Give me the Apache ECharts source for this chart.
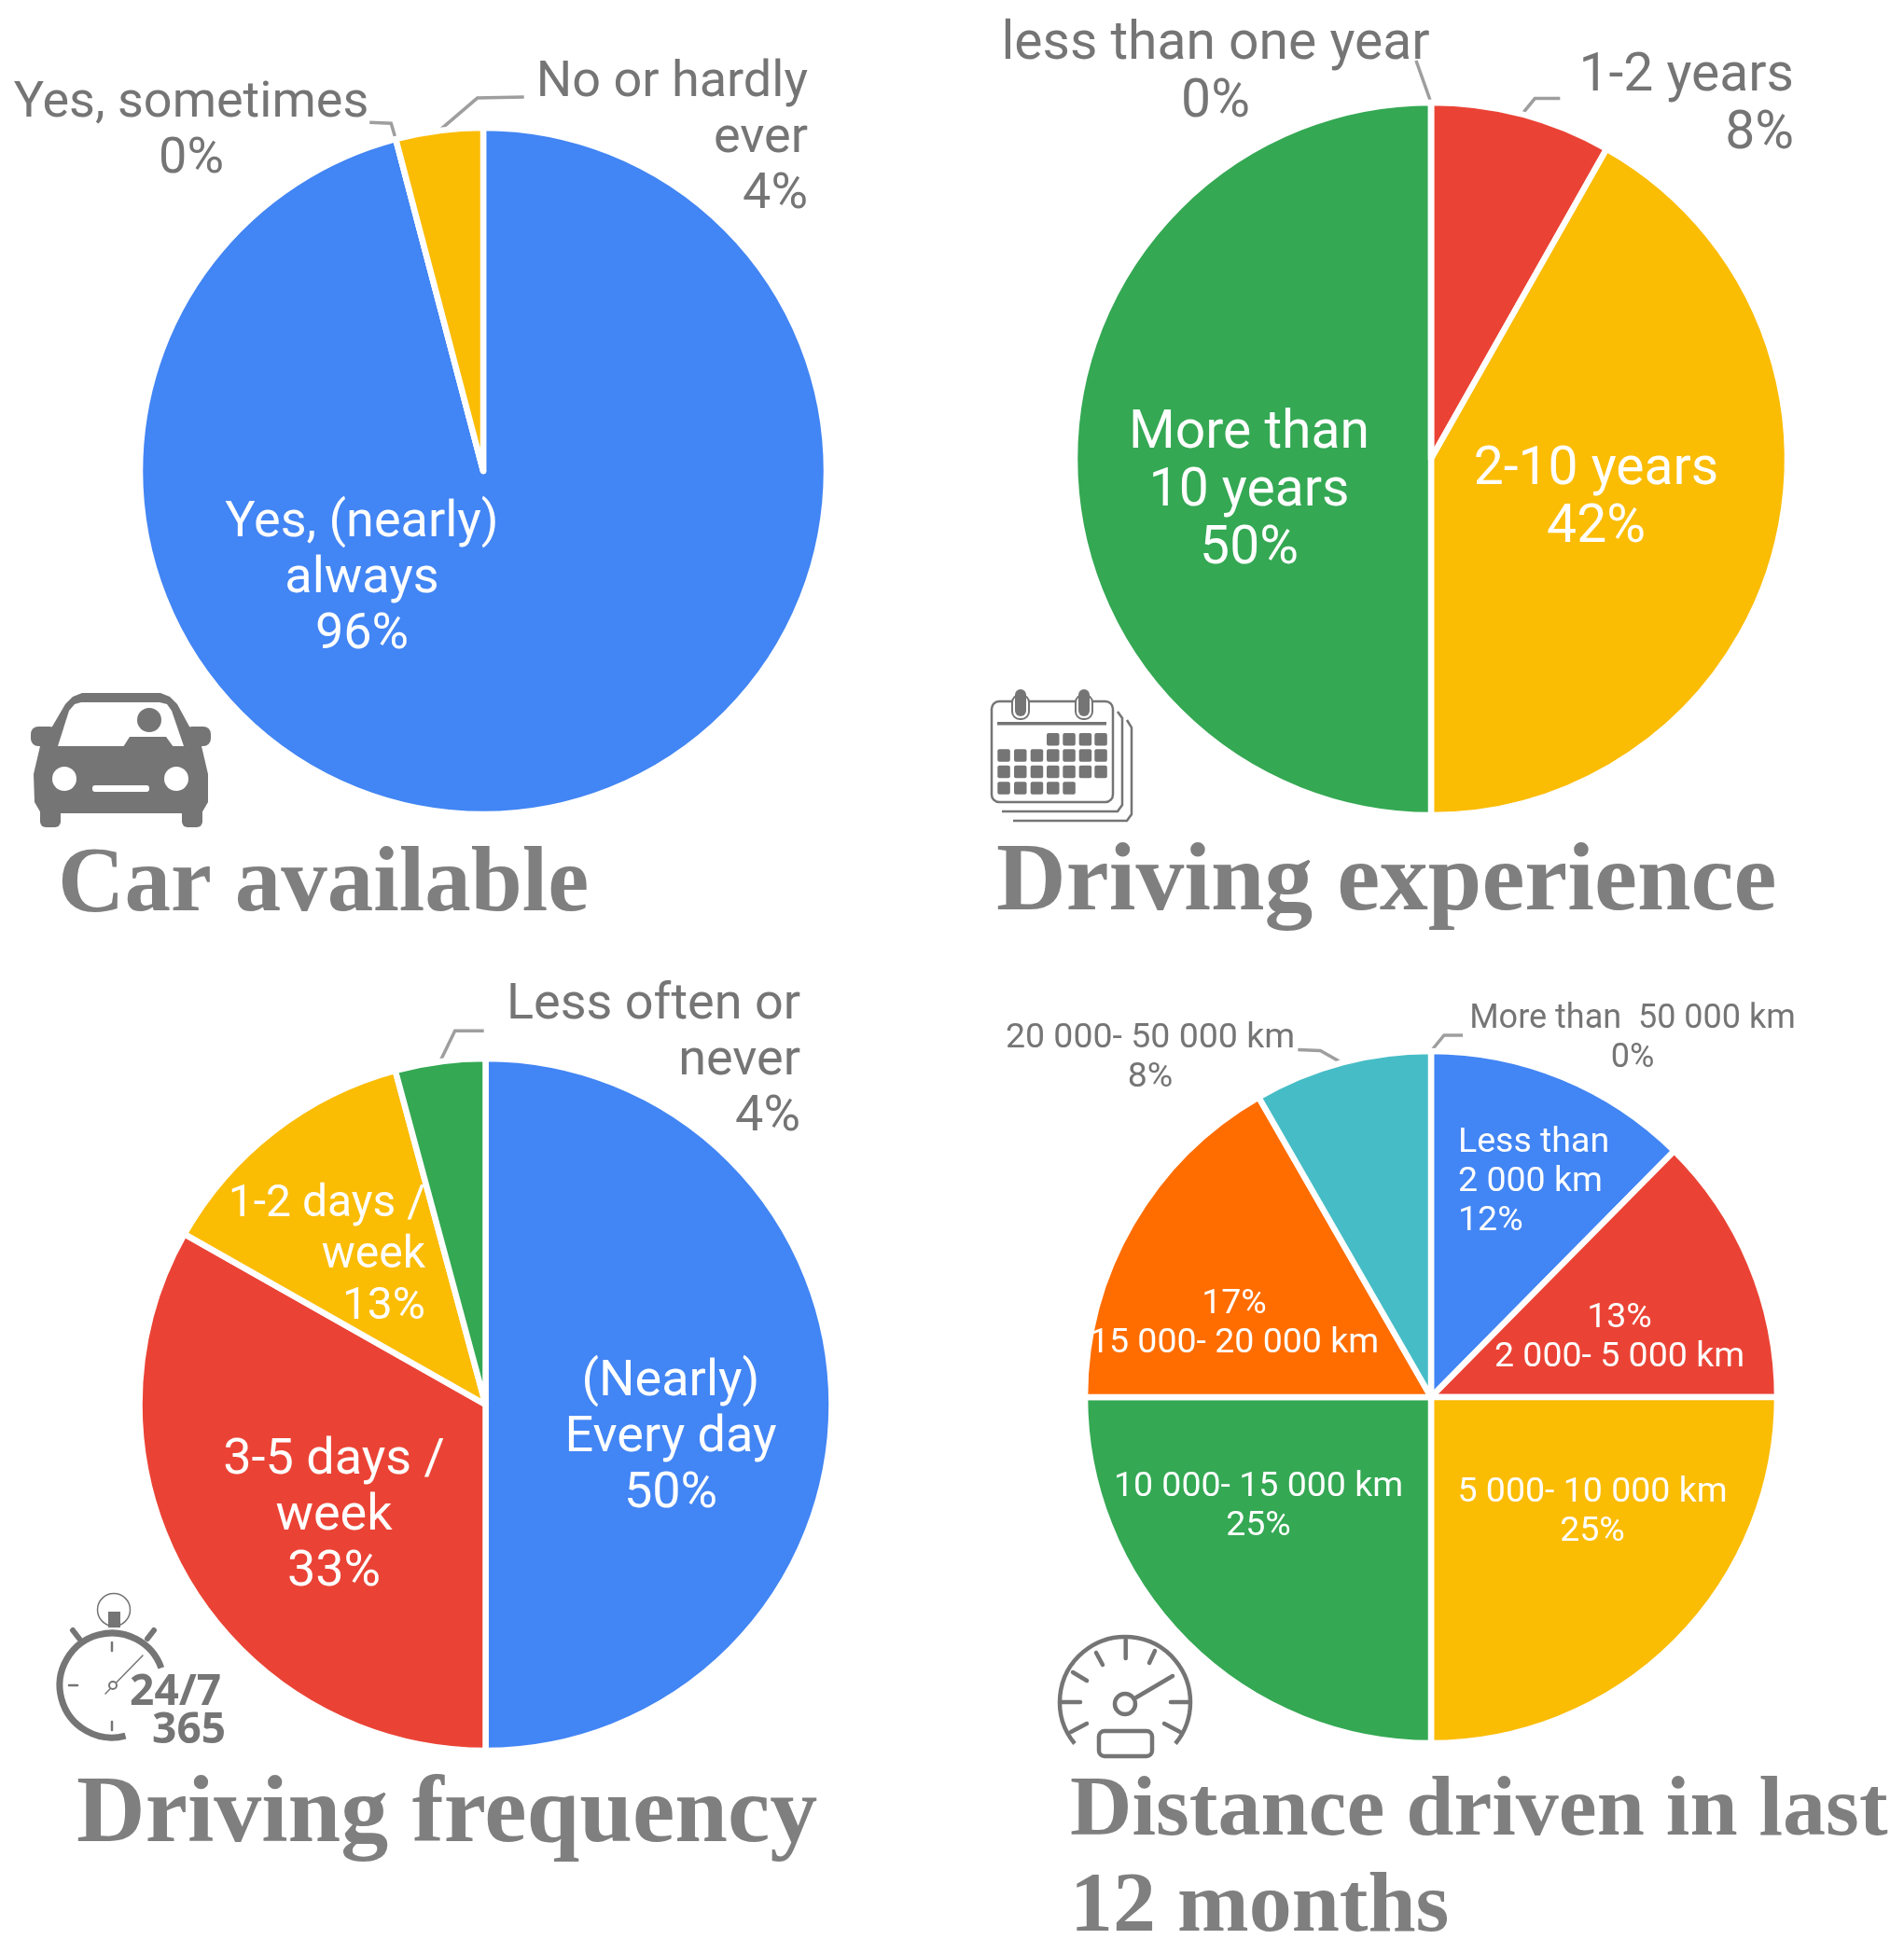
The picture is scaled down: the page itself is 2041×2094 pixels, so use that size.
<!DOCTYPE html>
<html>
<head>
<meta charset="utf-8">
<title>Car use</title>
<script src="https://cdn.jsdelivr.net/npm/echarts@6/dist/echarts.min.js"></script>
<style>
html,body{margin:0;padding:0;background:#fff}
#main{width:2041px;height:2094px}
</style>
</head>
<body>
<div id="main"></div>
<script>
var carNames = ['Yes, (nearly)\nalways', 'Yes, sometimes', 'No or hardly\never'];
var carValues = [95.9, 0, 4.1];
var expNames = ['1-2 years', '2-10 years', 'More than\n10 years', 'less than one year'];
var expValues = [8.2, 41.8, 50, 0];
var freqNames = ['(Nearly)\nEvery day', '3-5 days /\nweek', '1-2 days /\nweek', 'Less often or\nnever'];
var freqValues = [50, 33.2, 12.6, 4.2];
var distNames = ['More than  50 000 km', 'Less than\n2 000 km', '2 000- 5 000 km', '5 000- 10 000 km', '10 000- 15 000 km', '15 000- 20 000 km', '20 000- 50 000 km'];
var distValues = [0, 12.4, 12.6, 25, 25, 16.7, 8.3];
var titles = ['Car available', 'Driving experience', 'Driving frequency', 'Distance driven in last\n12 months'];

var BLUE = '#4285F4', RED = '#EA4335', YELLOW = '#FBBC04', GREEN = '#34A853', ORANGE = '#FF6D01', TEAL = '#46BDC6';
var GREY = '#757575';

// [x, middle y, align] of every label
var carSpots = [[388, 621, 'center'], [205, 141, 'center'], [866, 149, 'right']];
var expSpots = [[1923, 114, 'right'], [1711, 536, 'center'], [1339, 528, 'center'], [1303, 80, 'center']];
var freqSpots = [[719, 1542, 'center'], [358, 1626, 'center'], [456, 1347, 'right'], [858, 1138, 'right']];
var distSpots = [[1750, 1114, 'center'], [1563, 1268, 'left'], [1736, 1435, 'center'], [1707, 1622, 'center'], [1349, 1616, 'center'], [1323, 1420, 'center'], [1233, 1135, 'center']];

// leader lines, offsets from the point on the rim. null = label sits inside
var carLeaders = [null, [[-5, -17], [-28, -18]], [[41, -35], [91, -36]]];
var expLeaders = [[[14, -17], [41, -17]], null, null, [[-16, -45]]];
var freqLeaders = [null, null, null, [[16, -33], [47, -33]]];
var distLeaders = [[[14, -17], [34, -17]], null, null, null, null, null, [[-23, -13], [-47, -14]]];

function buildPie(names, values, colors, center, radius, spots, leaders, font, percentFirst) {
    return {
        type: 'pie',
        animation: false,
        center: center,
        radius: radius,
        startAngle: 90,
        clockwise: true,
        avoidLabelOverlap: false,
        stillShowZeroSum: true,
        minShowLabelAngle: 0,
        itemStyle: {borderColor: '#fff', borderWidth: 6.5},
        emphasis: {disabled: true},
        labelLine: {lineStyle: {color: '#9E9E9E', width: 3.5}},
        data: names.map(function (n, i) {
            var outside = !!leaders[i];
            var one = font.one && font.one[i];
            return {
                name: n,
                value: values[i],
                itemStyle: {color: colors[i]},
                label: {
                    show: true,
                    position: outside ? 'outside' : 'inside',
                    formatter: function (p) {
                        var pct = Math.round(p.value) + '%';
                        return percentFirst && percentFirst[i] ? pct + '\n' + p.name : p.name + '\n' + pct;
                    },
                    color: outside ? GREY : '#fff',
                    fontFamily: 'Roboto',
                    fontSize: one ? one[0] : font.size,
                    lineHeight: one ? one[1] : font.line,
                    overflow: 'none'
                },
                labelLine: {show: outside, length: 20, length2: 20}
            };
        }),
        labelLayout: function (p) {
            var s = spots[p.dataIndex], r = p.labelRect;
            var k = p.align === 'right' ? 1 : p.align === 'left' ? 0 : 0.5;
            var out = {
                dx: s[0] - (r.x + r.width * k),
                dy: s[1] - (r.y + r.height / 2),
                align: s[2]
            };
            var lead = leaders[p.dataIndex];
            if (lead && p.labelLinePoints) {
                var a = p.labelLinePoints[0];
                out.labelLinePoints = [[a[0], a[1]]].concat(lead.map(function (o) {
                    return [a[0] + o[0], a[1] + o[1]];
                }));
            }
            return out;
        }
    };
}

// icon helpers
function line(x1, y1, x2, y2, w) {
    return {type: 'line', shape: {x1: x1, y1: y1, x2: x2, y2: y2}, style: {stroke: GREY, lineWidth: w, lineCap: 'round'}};
}
function box(x, y, w, h, r, fill) {
    return {type: 'rect', shape: {x: x, y: y, width: w, height: h, r: r}, style: {fill: fill || GREY}};
}
function poly(points, fill) {
    return {type: 'polygon', shape: {points: points}, style: {fill: fill}};
}
function dot(cx, cy, r, fill) {
    return {type: 'circle', shape: {cx: cx, cy: cy, r: r}, style: {fill: fill}};
}
function arc(cx, cy, r, a0, a1, w) {
    return {type: 'arc', shape: {cx: cx, cy: cy, r: r, startAngle: a0 * Math.PI / 180, endAngle: a1 * Math.PI / 180, clockwise: true}, style: {stroke: GREY, fill: 'none', lineWidth: w}};
}

function carIcon() {
    return [
        box(33, 779, 28, 21, 8),
        box(198, 779, 28, 21, 8),
        poly([[56, 779], [70, 755], [78, 747], [88, 743], [172, 743], [182, 747], [190, 755], [203, 779], [216, 800], [223, 830], [223, 860], [216, 872], [44, 872], [37, 860], [36, 830], [43, 800]], GREY),
        box(43, 860, 22, 27, 6),
        box(195, 860, 22, 27, 6),
        poly([[62, 800], [74, 762], [80, 755], [87, 753], [171, 753], [179, 755], [184, 762], [197, 800]], '#fff'),
        dot(160, 772, 13, GREY),
        poly([[132, 801], [139, 790], [178, 790], [186, 801]], GREY),
        dot(69, 835, 13, '#fff'),
        dot(189, 835, 13, '#fff'),
        box(99, 842, 61, 7, 3, '#fff')
    ];
}

function calendarIcon() {
    var els = [
        {type: 'polyline', shape: {points: [[1198, 763], [1203, 770], [1203, 863], [1198, 870], [1074, 870]]}, style: {stroke: GREY, lineWidth: 2.5, fill: 'none'}},
        {type: 'polyline', shape: {points: [[1208, 772], [1213, 780], [1213, 873], [1208, 880], [1086, 880]]}, style: {stroke: GREY, lineWidth: 2.5, fill: 'none'}},
        {type: 'rect', shape: {x: 1063, y: 752, width: 130, height: 108, r: 8}, style: {stroke: GREY, lineWidth: 2.5, fill: '#fff'}},
        {type: 'rect', shape: {x: 1085, y: 745, width: 18, height: 26, r: 8}, style: {stroke: GREY, lineWidth: 2, fill: '#fff'}},
        {type: 'rect', shape: {x: 1153, y: 745, width: 18, height: 26, r: 8}, style: {stroke: GREY, lineWidth: 2, fill: '#fff'}},
        box(1088, 739, 12, 29, 6),
        box(1156, 739, 12, 29, 6),
        box(1069, 774, 117, 3.5, 0)
    ];
    var cols = [1069.3, 1087, 1104.7, 1122, 1139.3, 1156.7, 1173.3];
    var rows = [786, 803.3, 820.7, 838.3];
    var first = [3, 0, 0, 0], last = [6, 6, 6, 4];
    rows.forEach(function (y, r) {
        for (var c = first[r]; c <= last[r]; c++) {
            els.push(box(cols[c], y, 13.5, 13.5, 2));
        }
    });
    return els;
}

function watchIcon() {
    return [
        {type: 'circle', shape: {cx: 122, cy: 1726, r: 17.5}, style: {stroke: GREY, lineWidth: 1.5, fill: 'none'}},
        box(116, 1728, 13, 17, 0),
        line(78, 1748, 85, 1757, 6),
        line(165, 1748, 158, 1757, 6),
        arc(120, 1807, 56, 75, 340.5, 7),
        line(120, 1761, 120, 1770, 2.5),
        line(74, 1807, 83, 1807, 2.5),
        line(120, 1846, 120, 1855, 2.5),
        line(113, 1816, 153, 1775, 1.5),
        {type: 'circle', shape: {cx: 121, cy: 1807, r: 4}, style: {stroke: GREY, lineWidth: 2, fill: '#fff'}},
        {type: 'text', x: 237, y: 1815, style: {text: '24/7', fill: GREY, font: 'bold 46px "Open Sans"', textAlign: 'right', textVerticalAlign: 'middle'}},
        {type: 'text', x: 242, y: 1856, style: {text: '365', fill: GREY, font: 'bold 46px "Open Sans"', textAlign: 'right', textVerticalAlign: 'middle'}}
    ];
}

function gaugeIcon() {
    return [
        arc(1206, 1825, 70, 140.5, 399.5, 4.5),
        line(1206.7, 1758, 1206.7, 1778, 4.5),
        line(1175, 1772, 1182, 1785, 4.5),
        line(1150, 1793, 1165, 1802, 4.5),
        line(1138, 1825, 1158, 1825, 4.5),
        line(1148, 1857, 1165, 1848, 4.5),
        line(1238, 1770, 1232, 1783, 4.5),
        line(1255, 1825, 1275, 1825, 4.5),
        line(1248, 1848, 1265, 1857, 4.5),
        {type: 'circle', shape: {cx: 1206, cy: 1827, r: 11}, style: {stroke: GREY, lineWidth: 4.5, fill: 'none'}},
        line(1218, 1820, 1257, 1797, 4.5),
        {type: 'rect', shape: {x: 1178, y: 1856, width: 57, height: 27, r: 6}, style: {stroke: GREY, lineWidth: 4.5, fill: 'none'}}
    ];
}

function titleAt(i, left, top, size) {
    return {
        text: titles[i],
        left: left,
        top: top,
        padding: 0,
        textStyle: {
            fontFamily: 'Liberation Serif',
            fontWeight: 'bold',
            fontSize: size,
            lineHeight: 103,
            color: '#7F7F7F'
        }
    };
}

var chart = echarts.init(document.getElementById('main'), null, {renderer: 'canvas'});
chart.setOption({
    animation: false,
    backgroundColor: '#fff',
    title: [
        titleAt(0, 62, 899, 99),
        titleAt(1, 1068, 897, 103.5),
        titleAt(2, 82, 1896, 102),
        titleAt(3, 1147, 1892, 92)
    ],
    graphic: {elements: [].concat(carIcon(), calendarIcon(), watchIcon(), gaugeIcon()).map(function (e) {
        e.silent = true;
        return e;
    })},
    series: [
        buildPie(carNames, carValues, [BLUE, BLUE, YELLOW], [518, 505], 368, carSpots, carLeaders, {size: 54, line: 60}),
        buildPie(expNames, expValues, [RED, YELLOW, GREEN, BLUE], [1534, 492], 382, expSpots, expLeaders, {size: 57, line: 62}),
        buildPie(freqNames, freqValues, [BLUE, RED, YELLOW, GREEN], [520.5, 1506], 371, freqSpots, freqLeaders, {size: 54, line: 60, one: [null, null, [48, 55], null]}),
        buildPie(distNames, distValues, [RED, BLUE, RED, YELLOW, GREEN, ORANGE, TEAL], [1534, 1498], 371, distSpots, distLeaders, {size: 37.5, line: 42, one: [[36, 42]]},
            [false, false, true, false, false, true, false])
    ]
});
</script>
</body>
</html>
